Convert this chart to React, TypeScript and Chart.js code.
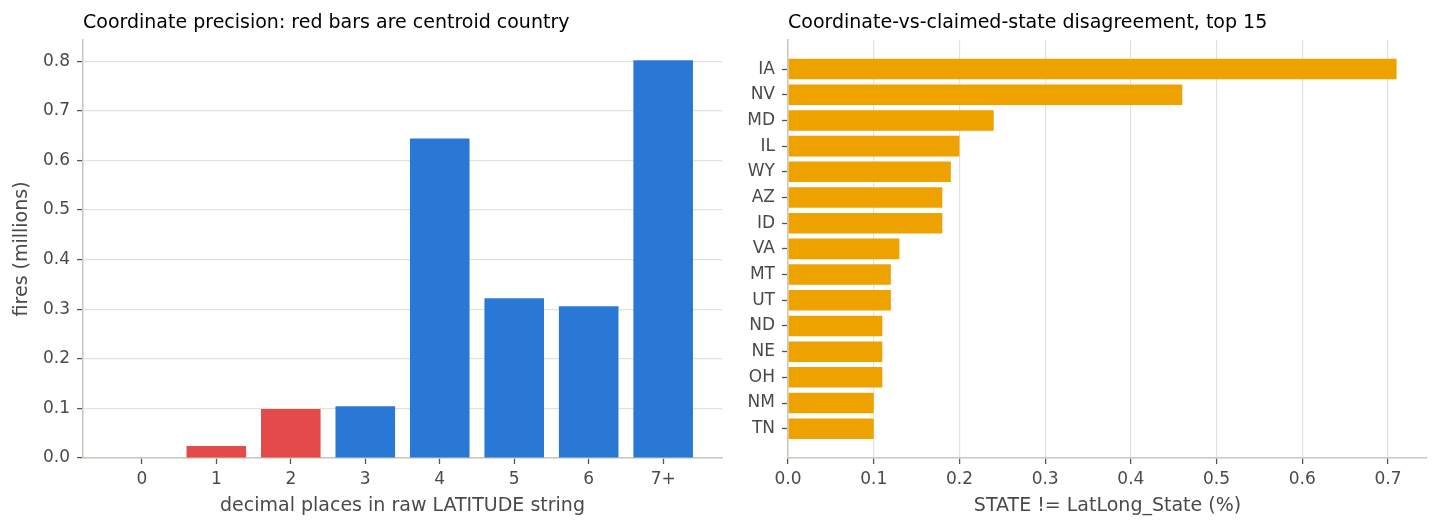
import React, { useEffect, useRef } from "react";
import { Chart, registerables } from "chart.js";

Chart.register(...registerables);

const decimalLabels = ["0", "1", "2", "3", "4", "5", "6", "7+"];
const fireCounts = [0, 0.0244, 0.0988, 0.1045, 0.644, 0.322, 0.306, 0.802];
const isCentroid = [false, true, true, false, false, false, false, false];

const stateLabels = ["IA", "NV", "MD", "IL", "WY", "AZ", "ID", "VA", "MT", "UT", "ND", "NE", "OH", "NM", "TN"];
const disagreePct = [0.71, 0.46, 0.24, 0.2, 0.19, 0.18, 0.18, 0.13, 0.12, 0.12, 0.11, 0.11, 0.11, 0.1, 0.1];

const yTicksLeft = [0, 0.1, 0.2, 0.3, 0.4, 0.5, 0.6, 0.7, 0.8];
const xTicksRight = [0, 0.1, 0.2, 0.3, 0.4, 0.5, 0.6, 0.7];

const FONT = "'DejaVu Sans', sans-serif";
const BLUE = "#2a78d6";
const RED = "#e34a4a";
const ORANGE = "#eda200";
const GRID = "#e2e2dc";
const SPINE = "#c8c8bd";
const TICKC = "#555555";
const LABELC = "#4a4a4a";

export default function App() {
  const leftRef = useRef<HTMLCanvasElement>(null);
  const rightRef = useRef<HTMLCanvasElement>(null);

  useEffect(() => {
    const tickFont = { family: FONT, size: 17 };
    const titleFont = { family: FONT, size: 19, weight: "normal" as const };
    const axisTitleFont = { family: FONT, size: 19 };
    const tickGrid = { drawTicks: true, tickLength: 6, tickColor: TICKC, tickWidth: 1.3 };

    const left = new Chart(leftRef.current!, {
      type: "bar",
      data: {
        datasets: [
          {
            data: fireCounts.map((v, i) => ({ x: i, y: v })),
            backgroundColor: isCentroid.map((c) => (c ? RED : BLUE)),
            barPercentage: 0.8,
            categoryPercentage: 1,
          },
        ],
      },
      options: {
        animation: false,
        responsive: false,
        devicePixelRatio: 1,
        layout: { padding: { left: 0, right: 8, top: 0, bottom: 0 } },
        plugins: {
          legend: { display: false },
          tooltip: { enabled: false },
          title: {
            display: true,
            text: "Coordinate precision: red bars are centroid country",
            align: "start",
            fullSize: false,
            color: "#000",
            font: titleFont,
            padding: { top: 11.5, bottom: 5.5 },
          },
        },
        scales: {
          x: {
            type: "linear",
            offset: false,
            min: -0.79,
            max: 7.79,
            afterBuildTicks: (axis: any) => {
              axis.ticks = decimalLabels.map((_, i) => ({ value: i }));
            },
            afterFit: (scale: any) => {
              scale.height = 72;
            },
            ticks: {
              color: LABELC,
              font: tickFont,
              padding: 5,
              maxRotation: 0,
              autoSkip: false,
              callback: (v: any) => decimalLabels[v as number] ?? "",
            },
            grid: { drawOnChartArea: false, offset: false, ...tickGrid },
            border: { display: true, color: SPINE, width: 1.5 },
            title: {
              display: true,
              text: "decimal places in raw LATITUDE string",
              color: LABELC,
              font: axisTitleFont,
              padding: { top: 0, bottom: 12.5 },
            },
          },
          y: {
            type: "linear",
            min: 0,
            max: 0.843,
            afterBuildTicks: (axis: any) => {
              axis.ticks = yTicksLeft.map((v) => ({ value: v }));
            },
            afterFit: (scale: any) => {
              scale.width = 83;
            },
            ticks: {
              color: LABELC,
              font: tickFont,
              padding: 7,
              callback: (v: any) => Number(v).toFixed(1),
            },
            grid: { color: GRID, lineWidth: 1.2, ...tickGrid },
            border: { display: true, color: SPINE, width: 1.5 },
            title: {
              display: true,
              text: "fires (millions)",
              color: LABELC,
              font: axisTitleFont,
              padding: { top: 10.5, bottom: 0 },
            },
          },
        },
      },
    });

    const right = new Chart(rightRef.current!, {
      type: "bar",
      data: {
        datasets: [
          {
            data: disagreePct.map((v, i) => ({ x: v, y: i })),
            backgroundColor: ORANGE,
            barPercentage: 0.8,
            categoryPercentage: 1,
          },
        ],
      },
      options: {
        animation: false,
        responsive: false,
        devicePixelRatio: 1,
        indexAxis: "y",
        layout: { padding: { left: 0, right: 14, top: 0, bottom: 0 } },
        plugins: {
          legend: { display: false },
          tooltip: { enabled: false },
          title: {
            display: true,
            text: "Coordinate-vs-claimed-state disagreement, top 15",
            align: "start",
            fullSize: false,
            color: "#000",
            font: titleFont,
            padding: { top: 11.5, bottom: 5.5 },
          },
        },
        scales: {
          x: {
            type: "linear",
            min: 0,
            max: 0.7455,
            afterBuildTicks: (axis: any) => {
              axis.ticks = xTicksRight.map((v) => ({ value: v }));
            },
            afterFit: (scale: any) => {
              scale.height = 72;
            },
            ticks: {
              color: LABELC,
              font: tickFont,
              padding: 5,
              maxRotation: 0,
              callback: (v: any) => Number(v).toFixed(1),
            },
            grid: { color: GRID, lineWidth: 1.2, ...tickGrid },
            border: { display: true, color: SPINE, width: 1.5 },
            title: {
              display: true,
              text: "STATE != LatLong_State (%)",
              color: LABELC,
              font: axisTitleFont,
              padding: { top: 0, bottom: 12.5 },
            },
          },
          y: {
            type: "linear",
            reverse: true,
            offset: false,
            min: -1.14,
            max: 15.14,
            afterBuildTicks: (axis: any) => {
              axis.ticks = stateLabels.map((_, i) => ({ value: i }));
            },
            afterFit: (scale: any) => {
              scale.width = 58;
            },
            ticks: {
              color: LABELC,
              font: tickFont,
              padding: 7,
              autoSkip: false,
              callback: (v: any) => stateLabels[v as number] ?? "",
            },
            grid: { drawOnChartArea: false, offset: false, ...tickGrid },
            border: { display: true, color: SPINE, width: 1.5 },
          },
        },
      },
    });

    return () => {
      left.destroy();
      right.destroy();
    };
  }, []);

  return (
    <div style={{ position: "fixed", left: 0, top: 0, width: 1441, height: 530, background: "#fff" }}>
      <canvas ref={leftRef} width={730} height={530} style={{ position: "absolute", left: 0, top: 0, width: 730, height: 530 }} />
      <canvas ref={rightRef} width={711} height={530} style={{ position: "absolute", left: 730, top: 0, width: 711, height: 530 }} />
    </div>
  );
}
